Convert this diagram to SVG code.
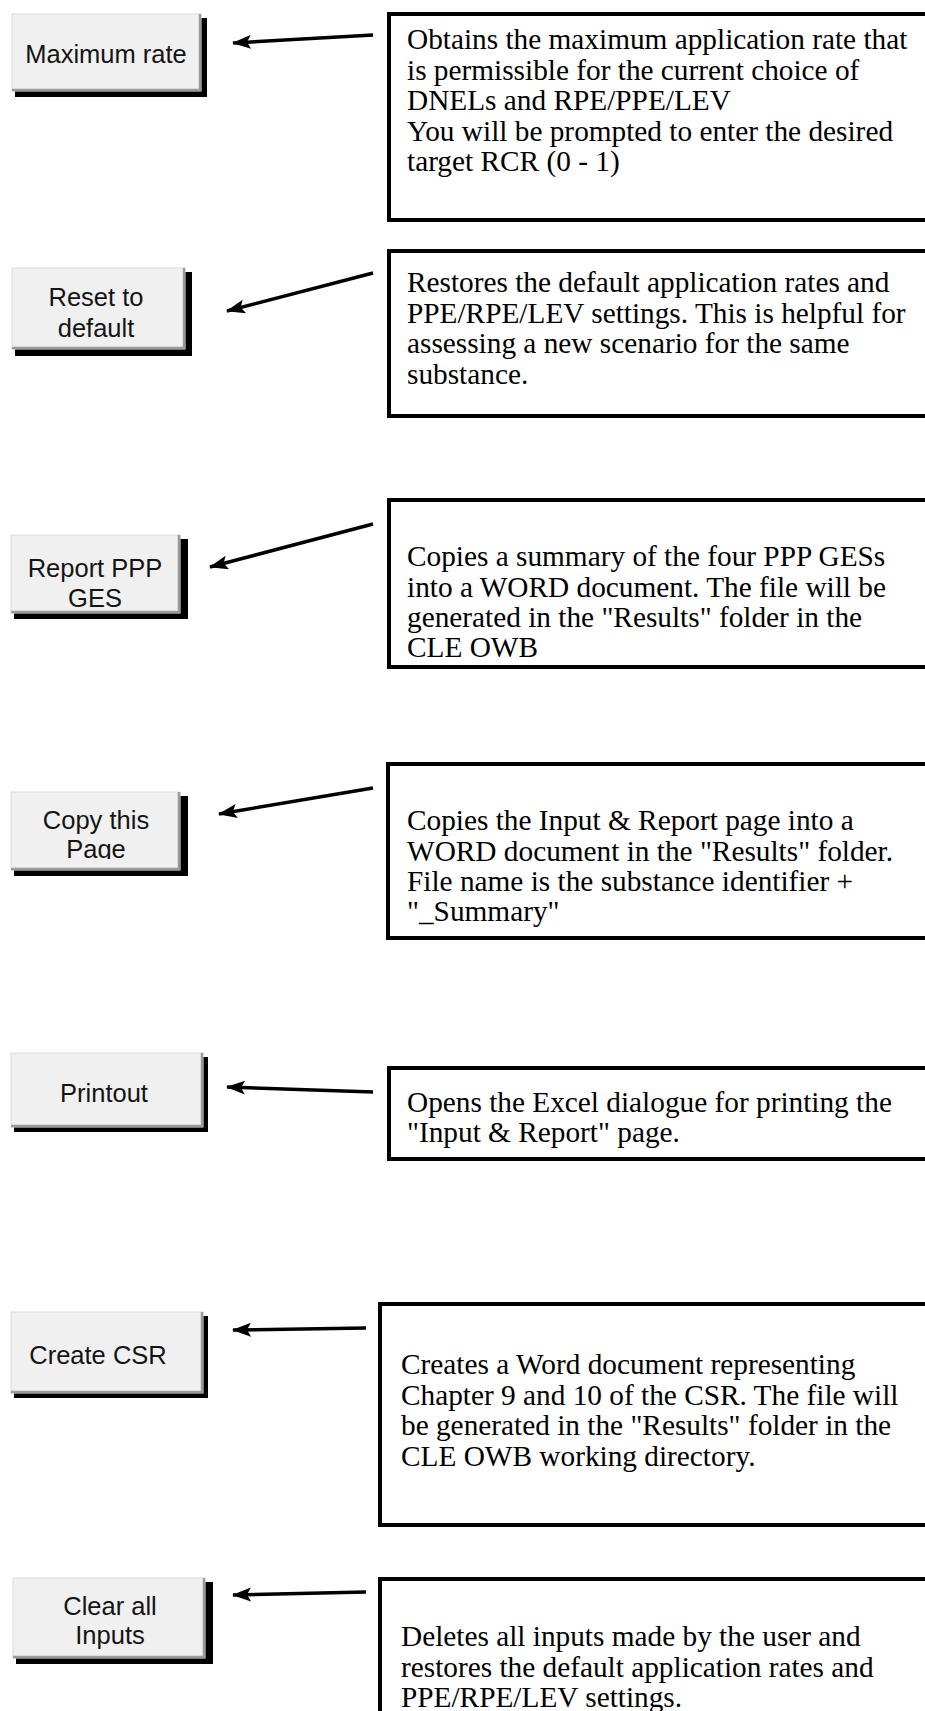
<svg xmlns="http://www.w3.org/2000/svg" width="925" height="1711" viewBox="0 0 925 1711">
<style>
.sh{fill:#000}
.face{fill:#f0f0f0;stroke:#dcdcdc;stroke-width:1}
.edge{fill:none;stroke:#9a9a9a;stroke-width:2.5}
.bt{font-family:"Liberation Sans",Arial,sans-serif;font-size:25.5px;fill:#141414;text-anchor:middle}
.box{fill:#fff;stroke:#000;stroke-width:4}
.tx{font-family:"Liberation Serif","Times New Roman",serif;font-size:29.3px;fill:#000}
.arr{stroke:#000;stroke-width:3.5;fill:none;marker-end:url(#ah)}
</style>
<defs>
<marker id="ah" markerUnits="userSpaceOnUse" markerWidth="22" markerHeight="16" refX="18" refY="7" orient="auto">
<path d="M0,0 L19,7 L0,14 L4,7 z" fill="#000"/>
</marker>
<clipPath id="pgclip"><rect x="0" y="780" width="200" height="79"/></clipPath>
</defs>
<rect width="925" height="1711" fill="#fff"/>

<g id="btn-max">
<rect class="sh" x="15" y="18" width="192" height="79"/>
<rect class="face" x="12" y="14" width="189" height="77"/>
<path class="edge" d="M200,14 V90 H12"/>
<text class="bt" x="106" y="63">Maximum rate</text>
</g>
<g id="btn-reset">
<rect class="sh" x="15" y="272" width="177" height="84"/>
<rect class="face" x="12" y="268" width="173" height="81"/>
<path class="edge" d="M184,268 V348 H12"/>
<text class="bt" x="96" y="306">Reset to</text>
<text class="bt" x="96" y="337">default</text>
</g>
<g id="btn-report">
<rect class="sh" x="14" y="539" width="174" height="80"/>
<rect class="face" x="11" y="535" width="169" height="78"/>
<path class="edge" d="M179,535 V612 H11"/>
<text class="bt" x="95" y="577">Report PPP</text>
<text class="bt" x="95" y="607">GES</text>
</g>
<g id="btn-copy">
<rect class="sh" x="14" y="796" width="174" height="80"/>
<rect class="face" x="11" y="792" width="169" height="78"/>
<path class="edge" d="M179,792 V869 H11"/>
<text class="bt" x="96" y="829">Copy this</text>
<text class="bt" x="96" y="858" clip-path="url(#pgclip)">Page</text>
</g>
<g id="btn-print">
<rect class="sh" x="14" y="1057" width="194" height="75"/>
<rect class="face" x="11" y="1053" width="192" height="74"/>
<path class="edge" d="M202,1053 V1126 H11"/>
<text class="bt" x="104" y="1102">Printout</text>
</g>
<g id="btn-csr">
<rect class="sh" x="14" y="1316" width="194" height="82"/>
<rect class="face" x="11" y="1312" width="192" height="81"/>
<path class="edge" d="M202,1312 V1392 H11"/>
<text class="bt" x="98" y="1364">Create CSR</text>
</g>
<g id="btn-clear">
<rect class="sh" x="16" y="1582" width="197" height="82"/>
<rect class="face" x="13" y="1578" width="192" height="80"/>
<path class="edge" d="M204,1578 V1657 H13"/>
<text class="bt" x="110" y="1615">Clear all</text>
<text class="bt" x="110" y="1644">Inputs</text>
</g>

<g id="connectors">
<line class="arr" x1="373" y1="35" x2="233" y2="43"/>
<line class="arr" x1="373" y1="273" x2="227" y2="311"/>
<line class="arr" x1="373" y1="524" x2="210" y2="567"/>
<line class="arr" x1="373" y1="788" x2="219" y2="814"/>
<line class="arr" x1="373" y1="1092" x2="227" y2="1087"/>
<line class="arr" x1="366" y1="1328" x2="233" y2="1330"/>
<line class="arr" x1="366" y1="1592" x2="233" y2="1595"/>
</g>

<g id="desc-max">
<rect class="box" x="389" y="14" width="560" height="206"/>
<text class="tx" x="407" y="49">Obtains the maximum application rate that</text>
<text class="tx" x="407" y="79.5">is permissible for the current choice of</text>
<text class="tx" x="407" y="110">DNELs and RPE/PPE/LEV</text>
<text class="tx" x="407" y="140.5">You will be prompted to enter the desired</text>
<text class="tx" x="407" y="171">target RCR (0 - 1)</text>
</g>
<g id="desc-reset">
<rect class="box" x="389" y="251" width="560" height="165"/>
<text class="tx" x="407" y="292">Restores the default application rates and</text>
<text class="tx" x="407" y="322.5">PPE/RPE/LEV settings. This is helpful for</text>
<text class="tx" x="407" y="353">assessing a new scenario for the same</text>
<text class="tx" x="407" y="383.5">substance.</text>
</g>
<g id="desc-report">
<rect class="box" x="389" y="500" width="560" height="167"/>
<text class="tx" x="407" y="566">Copies a summary of the four PPP GESs</text>
<text class="tx" x="407" y="596.5">into a WORD document. The file will be</text>
<text class="tx" x="407" y="627">generated in the "Results" folder in the</text>
<text class="tx" x="407" y="657">CLE OWB</text>
</g>
<g id="desc-copy">
<rect class="box" x="388" y="764" width="560" height="174"/>
<text class="tx" x="407" y="830">Copies the Input &amp; Report page into a</text>
<text class="tx" x="407" y="860.5">WORD document in the "Results" folder.</text>
<text class="tx" x="407" y="891">File name is the substance identifier +</text>
<text class="tx" x="407" y="921">"_Summary"</text>
</g>
<g id="desc-print">
<rect class="box" x="389" y="1068" width="560" height="91"/>
<text class="tx" x="407" y="1112">Opens the Excel dialogue for printing the</text>
<text class="tx" x="407" y="1142">"Input &amp; Report" page.</text>
</g>
<g id="desc-csr">
<rect class="box" x="380" y="1304" width="570" height="221"/>
<text class="tx" x="401" y="1374">Creates a Word document representing</text>
<text class="tx" x="401" y="1404.5">Chapter 9 and 10 of the CSR. The file will</text>
<text class="tx" x="401" y="1435">be generated in the "Results" folder in the</text>
<text class="tx" x="401" y="1465.5">CLE OWB working directory.</text>
</g>
<g id="desc-clear">
<rect class="box" x="380" y="1579" width="570" height="200"/>
<text class="tx" x="401" y="1646">Deletes all inputs made by the user and</text>
<text class="tx" x="401" y="1676.5">restores the default application rates and</text>
<text class="tx" x="401" y="1707">PPE/RPE/LEV settings.</text>
</g>
</svg>
